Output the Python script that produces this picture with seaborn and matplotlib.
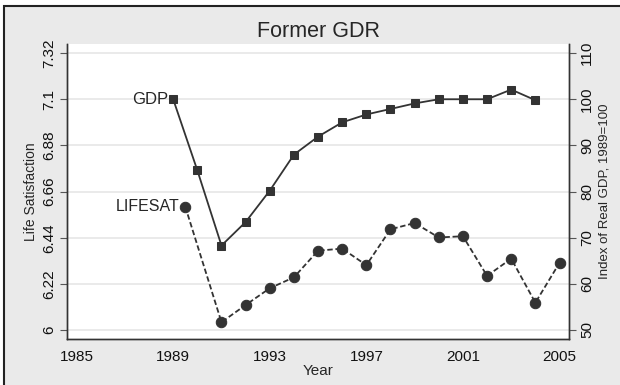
import numpy as np
import pandas as pd
import matplotlib
matplotlib.use('Agg')
import matplotlib.pyplot as plt
from matplotlib.patches import Rectangle
import seaborn as sns

# data
gdp_years = [1989, 1990, 1991, 1992, 1993, 1994, 1995, 1996, 1997, 1998,
             1999, 2000, 2001, 2002, 2003, 2004]
gdp_index = [100, 84.6, 68.3, 73.4, 80.2, 88.0, 91.9, 95.0, 96.7, 97.9,
             99.1, 100.0, 100.0, 100.0, 102.1, 99.8]

lifesat_years = [1989.5, 1991, 1992, 1993, 1994, 1995, 1996, 1997, 1998,
                 1999, 2000, 2001, 2002, 2003, 2004, 2005]
lifesat = [6.588, 6.037, 6.119, 6.199, 6.251, 6.378, 6.388, 6.309, 6.480,
           6.510, 6.441, 6.447, 6.258, 6.340, 6.130, 6.320]

left_ticks = [6, 6.22, 6.44, 6.66, 6.88, 7.1, 7.32]
left_labels = ['6', '6.22', '6.44', '6.66', '6.88', '7.1', '7.32']
right_ticks = [50, 60, 70, 80, 90, 100, 110]
x_ticks = [1985, 1989, 1993, 1997, 2001, 2005]

df_gdp = pd.DataFrame({'year': gdp_years, 'gdp': gdp_index})
df_ls = pd.DataFrame({'year': lifesat_years, 'lifesat': lifesat})

sns.set_style('white')
plt.rcParams['font.family'] = ['Liberation Sans', 'DejaVu Sans']

fig = plt.figure(figsize=(6.2, 3.85), dpi=100)
fig.patch.set_facecolor('white')
# grey panel with dark frame like the stata export (only top/left edge shows)
fig.patches.append(Rectangle((4 / 620, -0.2), 1.5, 1.2 - 6 / 385,
                             transform=fig.transFigure, facecolor='#eaeaea',
                             edgecolor='#222222', linewidth=1.5, zorder=-10))

ax = fig.add_axes([0.108, 0.1195, 0.81, 0.7665])
ax.set_facecolor('white')
ax2 = ax.twinx()

line_col = '#333333'

sns.lineplot(x='year', y='lifesat', data=df_ls, ax=ax, color=line_col,
             marker='o', markersize=7.5, linewidth=1.3, linestyle=(0, (3, 1.5)),
             markeredgecolor=line_col)
sns.lineplot(x='year', y='gdp', data=df_gdp, ax=ax2, color=line_col,
             marker='s', markersize=5.5, linewidth=1.3,
             markeredgecolor=line_col)

ax.set_xlim(1984.6, 2005.4)
ax.set_ylim(5.957, 7.364)
ax2.set_ylim(48.05, 112.0)

ax.set_xticks(x_ticks)
ax.set_yticks(left_ticks)
ax.set_yticklabels(left_labels, rotation=90, va='center')
ax2.set_yticks(right_ticks)
ax2.set_yticklabels([str(t) for t in right_ticks], rotation=90, va='center')

ax.grid(True, axis='y', color='#e6e6e6', linewidth=1.2)
ax.set_axisbelow(True)

for a in (ax, ax2):
    a.spines['top'].set_visible(False)
    for s in ('left', 'right', 'bottom'):
        a.spines[s].set_color('#333333')
        a.spines[s].set_linewidth(1.0)
    a.tick_params(axis='both', direction='out', length=5, width=0.8,
                  color='#555555', labelsize=11, labelcolor='#111111', pad=3)

ax.set_xlabel('Year', fontsize=11, labelpad=0)
ax.set_ylabel('Life Satisfaction', fontsize=10, labelpad=3)
ax2.set_ylabel('Index of Real GDP, 1989=100', fontsize=9.5, labelpad=3)
ax.set_title('Former GDR', fontsize=15.5, pad=5)

ax2.text(1989 - 0.2, 100, 'GDP', ha='right', va='center', fontsize=12)
ax.text(1989.5 - 0.25, 6.588, 'LIFESAT', ha='right', va='center', fontsize=11.5)

plt.savefig('out.png', dpi=100)
